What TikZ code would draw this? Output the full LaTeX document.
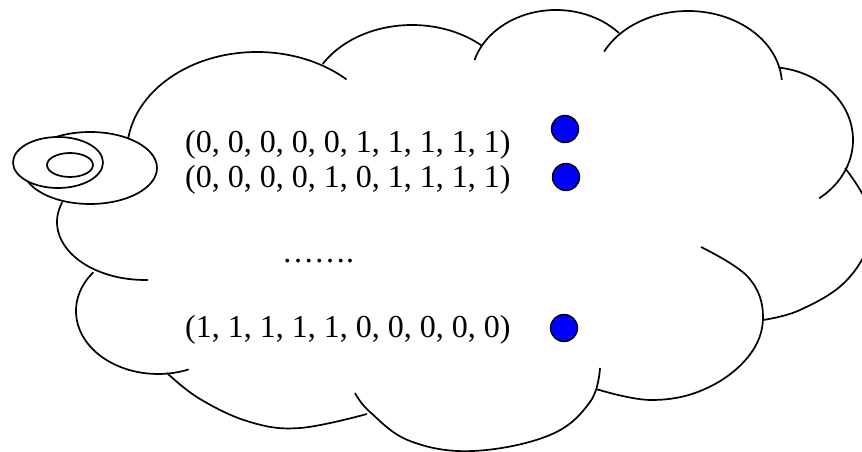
\documentclass[tikz,border=0pt]{standalone}
\usepackage{fontspec}
\setmainfont{Liberation Serif}
\tikzset{
	cloudline/.style = {
		draw=black,
		line width=1.7pt
	},
	bubble/.style = {
		cloudline,
		fill=white
	},
	tuple/.style = {
		anchor=base west,
		inner sep=0pt,
		font=\fontsize{32}{38}\selectfont
	},
	marker/.style = {
		circle,
		draw=black,
		fill=blue,
		line width=1.4pt,
		inner sep=0pt,
		minimum size=27pt
	},
}
\begin{document}
\begin{tikzpicture}[x=1pt, y=1pt]
\useasboundingbox (0,0) rectangle (862,452);
\clip (0,0) rectangle (862,452);
% lobes of the cloud drawn as arcs
\foreach \cx/\cy/\rx/\ry/\a/\b in {257/300/130/100/185/46.5, 412/347/104/80/149.2/47.5, 556/372/85/70/163.4/42.2, 688/367/94/74/153.2/4, 768/312/85/73/83/-53, 158/141/82/63/142/292, 145/230/88/58/160/272}
	\draw[cloudline] ({\cx+\rx*cos(\a)},{\cy+\ry*sin(\a)}) arc[start angle=\a, end angle=\b, x radius=\rx, y radius=\ry];
% the other lobes
\draw[cloudline] plot[smooth, tension=0.65] coordinates {(845,284) (866,250) (870,212) (845,170) (800,142) (763,132)};
\draw[cloudline] plot[smooth, tension=0.65] coordinates {(701,205) (748,175) (763,135) (748,95) (705,63) (651,52) (596,63)};
\draw[cloudline] plot[smooth, tension=0.65] coordinates {(600,84) (590,50) (550,17) (473,1) (410,11) (370,40) (355,59)};
\draw[cloudline] plot[smooth, tension=0.65] coordinates {(167,79) (200,53) (250,30) (300,24) (367,38)};
% thought bubbles
\draw[bubble] (90,284) ellipse[x radius=67, y radius=36];
\draw[bubble] (58,289.5) ellipse[x radius=45, y radius=25.5];
\draw[cloudline] (70,287) ellipse[x radius=23, y radius=12];
% tuples
\node[tuple] (row1) at (185,299) {(0, 0, 0, 0, 0, 1, 1, 1, 1, 1)};
\node[tuple] (row2) at (185,264) {(0, 0, 0, 0, 1, 0, 1, 1, 1, 1)};
\node[tuple, anchor=base] (gap) at (318,189) {…….};
\node[tuple] (row3) at (185,114) {(1, 1, 1, 1, 1, 0, 0, 0, 0, 0)};
\node[marker] (m1) at (565,323) {};
\node[marker] (m2) at (566,275) {};
\node[marker] (m3) at (564,124) {};
\end{tikzpicture}
\end{document}
